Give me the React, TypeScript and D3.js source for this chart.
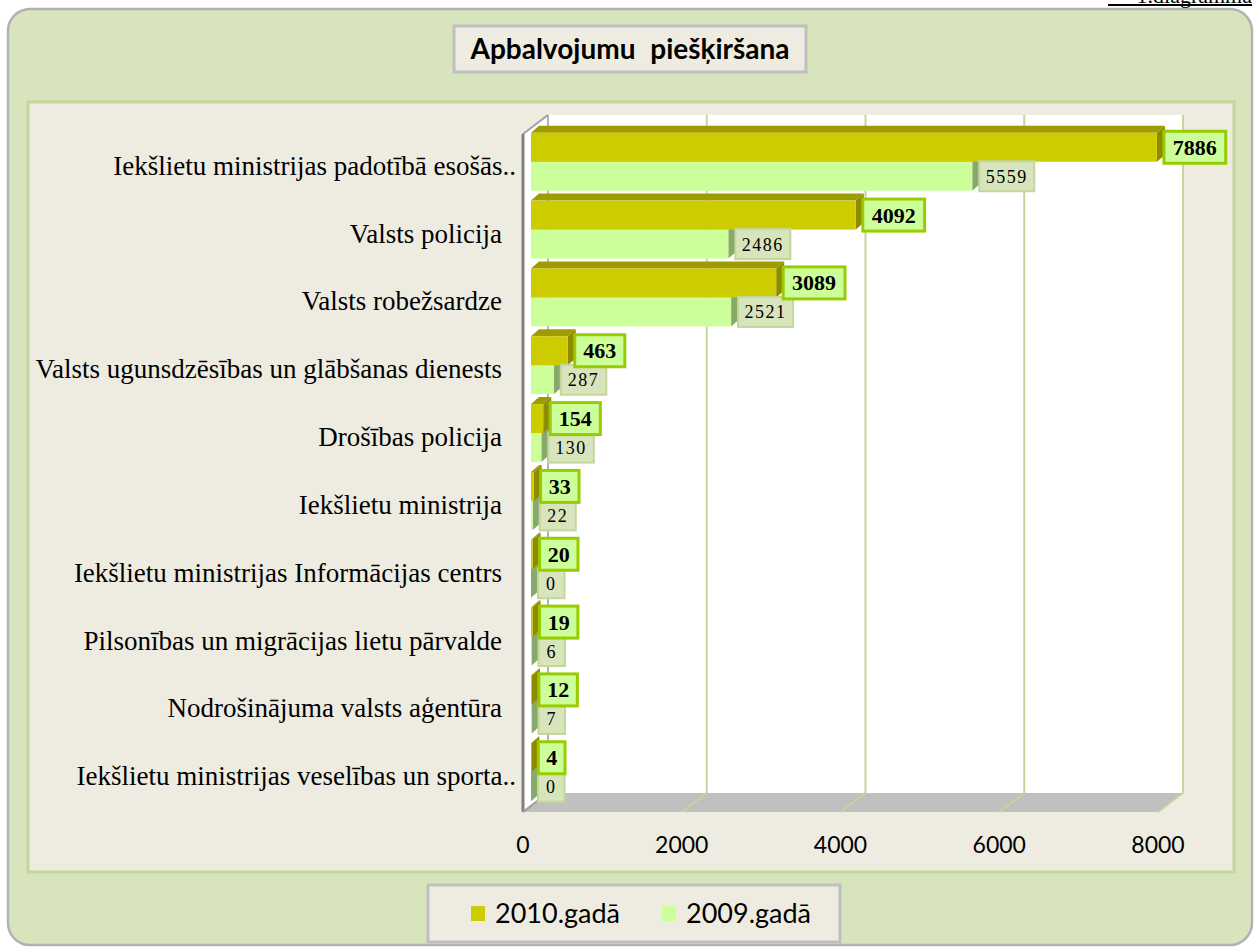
import React, { useRef, useEffect } from "react";
import { select, scaleLinear, scaleBand } from "d3";

const categories = [
  "Iekšlietu ministrijas padotībā esošās..",
  "Valsts policija",
  "Valsts robežsardze",
  "Valsts ugunsdzēsības un glābšanas dienests",
  "Drošības policija",
  "Iekšlietu ministrija",
  "Iekšlietu ministrijas Informācijas centrs",
  "Pilsonības un migrācijas lietu pārvalde",
  "Nodrošinājuma valsts aģentūra",
  "Iekšlietu ministrijas veselības un sporta..",
];
const values2010 = [7886, 4092, 3089, 463, 154, 33, 20, 19, 12, 4];
const values2009 = [5559, 2486, 2521, 287, 130, 22, 0, 6, 7, 0];
const xTicks = [0, 2000, 4000, 6000, 8000];
const seriesNames = ["2010.gadā", "2009.gadā"];
const title = "Apbalvojumu piešķiršana";

const serif = "'Liberation Serif', 'Times New Roman', serif";
const sans = "Lato, 'Open Sans', sans-serif";

function App() {
  const svgRef = useRef(null);

  useEffect(() => {
    const svg = select(svgRef.current);
    svg.selectAll("*").remove();

    // front plane of the 3d box, back wall is shifted by (wallDx, wallDy)
    const xFront = scaleLinear().domain([0, 8000]).range([523, 1158]);
    const xBar = scaleLinear().domain([0, 8000]).range([531, 1166]);
    const wallDx = 25, wallDy = -19;
    const frontTop = 134, frontBottom = 812;
    const barDx = 8, barDy = -7;
    const y = scaleBand()
      .domain(categories)
      .range([128, 806])
      .paddingInner(0.145)
      .paddingOuter(0.07);
    const h = y.bandwidth() / 2;

    // outer frame
    svg.append("rect")
      .attr("x", 8).attr("y", 9).attr("width", 1244).attr("height", 936)
      .attr("rx", 22)
      .attr("fill", "#d8e4bc").attr("stroke", "#b2b2b2").attr("stroke-width", 2.5);

    // caption above the chart, mostly above the page edge as in the source
    svg.append("text")
      .attr("x", 1252).attr("y", 3)
      .attr("text-anchor", "end")
      .style("font-family", serif).style("font-size", "22px")
      .text("1.diagramma");
    svg.append("line")
      .attr("x1", 1108).attr("x2", 1252).attr("y1", 5).attr("y2", 5)
      .attr("stroke", "#000").attr("stroke-width", 2);

    // plot area panel
    svg.append("rect")
      .attr("x", 28).attr("y", 102).attr("width", 1206).attr("height", 770)
      .attr("fill", "#eeece1").attr("stroke", "#c3d69b").attr("stroke-width", 3);

    const x0 = xFront(0), x8 = xFront(8000);
    // back wall
    svg.append("rect")
      .attr("x", x0 + wallDx).attr("y", frontTop + wallDy)
      .attr("width", x8 - x0).attr("height", frontBottom - frontTop)
      .attr("fill", "#fff");
    // left wall
    svg.append("polygon")
      .attr("points", [
        [x0, frontTop], [x0 + wallDx, frontTop + wallDy],
        [x0 + wallDx, frontBottom + wallDy], [x0, frontBottom]
      ].join(" "))
      .attr("fill", "#fff");
    // floor
    svg.append("polygon")
      .attr("points", [
        [x0 + wallDx, frontBottom + wallDy], [x8 + wallDx, frontBottom + wallDy],
        [x8, frontBottom], [x0, frontBottom]
      ].join(" "))
      .attr("fill", "#c0c0c0");

    // gridlines on back wall and floor
    xTicks.forEach(t => {
      const c = t === 0 ? "#b4b4b4" : "#c3d69b";
      svg.append("line")
        .attr("x1", xFront(t) + wallDx).attr("x2", xFront(t) + wallDx)
        .attr("y1", frontTop + wallDy).attr("y2", frontBottom + wallDy)
        .attr("stroke", c).attr("stroke-width", 2);
      svg.append("line")
        .attr("x1", xFront(t) + wallDx).attr("x2", xFront(t))
        .attr("y1", frontBottom + wallDy).attr("y2", frontBottom)
        .attr("stroke", c).attr("stroke-width", 2);
    });

    // left wall edges
    svg.append("line")
      .attr("x1", x0).attr("x2", x0 + wallDx)
      .attr("y1", frontTop).attr("y2", frontTop + wallDy)
      .attr("stroke", "#a0a0a0").attr("stroke-width", 2);
    svg.append("line")
      .attr("x1", x0).attr("x2", x0)
      .attr("y1", frontTop).attr("y2", frontBottom)
      .attr("stroke", "#808080").attr("stroke-width", 3);
    svg.append("line")
      .attr("x1", x0).attr("x2", x0 + wallDx)
      .attr("y1", frontBottom).attr("y2", frontBottom + wallDy)
      .attr("stroke", "#a0a0a0").attr("stroke-width", 2);

    // 3d bar: front, top, side
    const bar3d = (v, top, front, topC, sideC) => {
      const xa = xBar(0), xb = xBar(v);
      const g = svg.append("g");
      g.append("polygon")
        .attr("points", [[xa, top], [xa + barDx, top + barDy], [xb + barDx, top + barDy], [xb, top]].join(" "))
        .attr("fill", topC);
      g.append("polygon")
        .attr("points", [[xb, top], [xb + barDx, top + barDy], [xb + barDx, top + h + barDy], [xb, top + h]].join(" "))
        .attr("fill", sideC);
      g.append("rect")
        .attr("x", xa).attr("y", top).attr("width", xb - xa).attr("height", h)
        .attr("fill", front);
    };

    categories.forEach((c, i) => {
      bar3d(values2009[i], y(c) + h, "#ccff99", "#a9d47e", "#87a96b");
      bar3d(values2010[i], y(c), "#cccc00", "#a09b00", "#8f8b00");
    });

    // 2009 value labels
    categories.forEach((c, i) => {
      const v = values2009[i];
      const s = String(v);
      const w = 17 + 9.5 * s.length;
      const bx = xBar(v) + 7;
      const cy = y(c) + h * 1.5;
      svg.append("rect")
        .attr("x", bx).attr("y", cy - 15).attr("width", w).attr("height", 30)
        .attr("fill", "#d8e4bc").attr("stroke", "#c3d69b").attr("stroke-width", 2);
      svg.append("text")
        .attr("x", bx + w / 2).attr("y", cy + 6.5)
        .attr("text-anchor", "middle")
        .style("font-family", serif).style("font-size", "18px")
        .style("letter-spacing", "1.5px")
        .text(s);
    });

    // 2010 value labels
    categories.forEach((c, i) => {
      const v = values2010[i];
      const s = String(v);
      const w = 15 + 11.7 * s.length;
      const bx = xBar(v) + 7;
      const cy = y(c) + h / 2;
      svg.append("rect")
        .attr("x", bx).attr("y", cy - 16).attr("width", w).attr("height", 32)
        .attr("fill", "#ccff99").attr("stroke", "#99cc00").attr("stroke-width", 3);
      svg.append("text")
        .attr("x", bx + w / 2).attr("y", cy + 7.5)
        .attr("text-anchor", "middle")
        .style("font-family", serif).style("font-size", "22px").style("font-weight", "bold")
        .text(s);
    });

    // category labels
    categories.forEach(c => {
      svg.append("text")
        .attr("x", c.endsWith("..") ? 516 : 502)
        .attr("y", y(c) + h + 13)
        .attr("text-anchor", "end")
        .style("font-family", serif).style("font-size", "27px")
        .text(c);
    });

    // x tick labels
    xTicks.forEach(t => {
      svg.append("text")
        .attr("x", xFront(t)).attr("y", 853)
        .attr("text-anchor", "middle")
        .style("font-family", sans).style("font-size", "23px")
        .text(t);
    });

    // legend
    svg.append("rect")
      .attr("x", 428).attr("y", 885).attr("width", 412).attr("height", 57)
      .attr("fill", "#eeece1").attr("stroke", "#bfbfbf").attr("stroke-width", 3);
    const legendX = [471, 662];
    const legendC = ["#cccc00", "#ccff99"];
    seriesNames.forEach((n, i) => {
      svg.append("rect")
        .attr("x", legendX[i]).attr("y", 906).attr("width", 14).attr("height", 15)
        .attr("fill", legendC[i]);
      svg.append("text")
        .attr("x", legendX[i] + 24).attr("y", 923)
        .style("font-family", sans).style("font-size", "27px")
        .text(n);
    });

    // title
    svg.append("rect")
      .attr("x", 454).attr("y", 26).attr("width", 352).attr("height", 46)
      .attr("fill", "#eeece1").attr("stroke", "#bfbfbf").attr("stroke-width", 3);
    svg.append("text")
      .attr("x", 630).attr("y", 59)
      .attr("text-anchor", "middle")
      .style("font-family", sans).style("font-size", "28px").style("font-weight", "bold")
      .style("word-spacing", "8px")
      .text(title);
  }, []);

  return (
    <svg
      ref={svgRef}
      width={1257}
      height={949}
      style={{ position: "absolute", left: 0, top: 0, background: "#fff" }}
    />
  );
}

export default App;
